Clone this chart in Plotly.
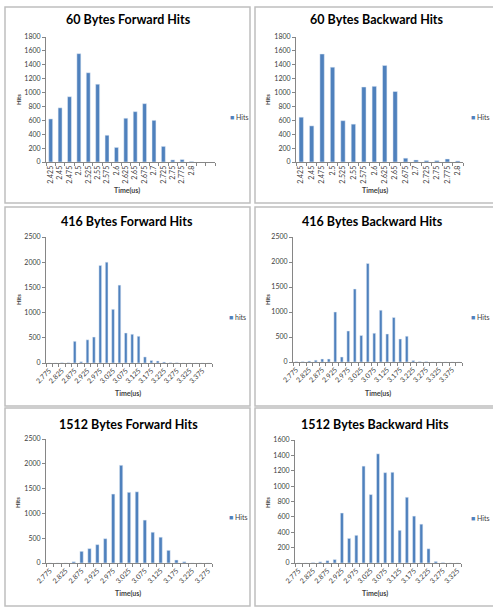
import plotly.graph_objects as go

W, H = 493, 607
BLUE = "#4F81BD"
AXIS = "#868686"
TXT = "#404040"
FONT = "Lato"

# ---------------- data ----------------
cats_60 = ["2.425", "2.45", "2.475", "2.5", "2.525", "2.55", "2.575", "2.6",
           "2.625", "2.65", "2.675", "2.7", "2.725", "2.75", "2.775", "2.8"]
hits_60_fwd = [620, 780, 940, 1560, 1285, 1120, 385, 210,
               630, 725, 840, 600, 225, 30, 35, 8]
hits_60_bwd = [645, 520, 1555, 1365, 595, 545, 1080, 1090,
               1390, 1015, 55, 29, 20, 20, 43, 15]

cats_416 = ["2.775", "2.8", "2.825", "2.85", "2.875", "2.9", "2.925", "2.95",
            "2.975", "3", "3.025", "3.05", "3.075", "3.1", "3.125", "3.15",
            "3.175", "3.2", "3.225", "3.25", "3.275", "3.3", "3.325", "3.35",
            "3.375", "3.4"]
hits_416_fwd = [0, 0, 5, 5, 430, 25, 460, 515, 1935, 2000, 1065, 1545, 595,
                570, 530, 120, 50, 40, 20, 7, 5, 0, 0, 0, 0, 0]
hits_416_bwd = [5, 8, 20, 35, 60, 60, 1000, 100, 620, 1460, 530, 1970, 575,
                1035, 560, 890, 460, 515, 30, 10, 8, 0, 0, 0, 0, 0]

cats_1512_fwd = ["2.775", "2.8", "2.825", "2.85", "2.875", "2.9", "2.925",
                 "2.95", "2.975", "3", "3.025", "3.05", "3.075", "3.1",
                 "3.125", "3.15", "3.175", "3.2", "3.225", "3.25", "3.275"]
hits_1512_fwd = [0, 0, 0, 25, 235, 290, 370, 490, 1390, 1970, 1425, 1435,
                 865, 620, 520, 255, 60, 25, 0, 0, 0]

cats_1512_bwd = ["2.775", "2.8", "2.825", "2.85", "2.875", "2.9", "2.925",
                 "2.95", "2.975", "3", "3.025", "3.05", "3.075", "3.1",
                 "3.125", "3.15", "3.175", "3.2", "3.225", "3.25", "3.275",
                 "3.3", "3.325"]
hits_1512_bwd = [0, 0, 5, 15, 30, 45, 650, 320, 360, 1260, 890, 1420, 1175,
                 1180, 425, 855, 610, 505, 185, 20, 5, 0, 0]

titles = ["60 Bytes Forward Hits", "60 Bytes Backward Hits",
          "416 Bytes Forward Hits", "416 Bytes Backward Hits",
          "1512 Bytes Forward Hits", "1512 Bytes Backward Hits"]
series_names = ["Hits", "Hits", "hits", "Hits", "Hits", "Hits"]

# ---------------- layout (pixels) ----------------
panels = [
    dict(cats=cats_60, vals=hits_60_fwd, ymax=1800, dtick=200, extra=2, step=1, angle=-90,
         dom_x=(46, 215), dom_y=(37, 162), title=(128, 20), ytitle=(19, 100), xtitle=(127, 191), leg=(228, 117)),
    dict(cats=cats_60, vals=hits_60_bwd, ymax=1800, dtick=200, extra=0, step=1, angle=-90,
         dom_x=(296, 463), dom_y=(37, 162), title=(377, 20), ytitle=(268, 100), xtitle=(375, 190), leg=(469, 117)),
    dict(cats=cats_416, vals=hits_416_fwd, ymax=2500, dtick=500, extra=0, step=2, angle=-45,
         dom_x=(46, 212), dom_y=(237, 363), title=(127, 222), ytitle=(18, 300), xtitle=(128, 393), leg=(227, 317)),
    dict(cats=cats_416, vals=hits_416_bwd, ymax=2500, dtick=500, extra=0, step=2, angle=-45,
         dom_x=(293, 462), dom_y=(237, 362), title=(372, 222), ytitle=(267, 300), xtitle=(378, 393), leg=(469, 317)),
    dict(cats=cats_1512_fwd, vals=hits_1512_fwd, ymax=2500, dtick=500, extra=0, step=2, angle=-45,
         dom_x=(46, 212), dom_y=(439, 563), title=(128, 424), ytitle=(17, 503), xtitle=(128, 593), leg=(227, 517)),
    dict(cats=cats_1512_bwd, vals=hits_1512_bwd, ymax=1600, dtick=200, extra=0, step=2, angle=-45,
         dom_x=(295, 461), dom_y=(440, 563), title=(375, 424), ytitle=(267, 503), xtitle=(375, 593), leg=(469, 518)),
]

STEP = 0.025


def px(x):
    return x / W


def py(y):
    return 1 - y / H


fig = go.Figure()
layout = {}
annotations = []
shapes = []

for i, p in enumerate(panels):
    n = i + 1
    sfx = "" if n == 1 else str(n)
    xs = [float(c) for c in p["cats"]]
    fig.add_trace(go.Bar(
        x=xs, y=p["vals"], width=STEP * 0.42, marker_color=BLUE,
        name=series_names[i], xaxis="x" + sfx, yaxis="y" + sfx,
        showlegend=False,
    ))
    lo = xs[0] - STEP / 2
    hi = xs[0] + (len(xs) + p["extra"]) * STEP - STEP / 2
    layout["xaxis" + sfx] = dict(
        domain=[px(p["dom_x"][0]), px(p["dom_x"][1])],
        anchor="y" + sfx, range=[lo, hi], type="linear",
        tickmode="array", tickvals=xs[::p["step"]], ticktext=p["cats"][::p["step"]],
        tickangle=p["angle"], ticks="", showline=True, linecolor=AXIS, linewidth=1,
        showgrid=False, zeroline=False,
        tickfont=dict(size=7, color=TXT, family=FONT),
        minor=dict(ticks="outside", ticklen=3, tick0=lo, dtick=STEP, tickcolor=AXIS, showgrid=False),
    )
    layout["yaxis" + sfx] = dict(
        domain=[py(p["dom_y"][1]), py(p["dom_y"][0])],
        anchor="x" + sfx, range=[0, p["ymax"]], dtick=p["dtick"],
        ticks="outside", ticklen=3, tickcolor=AXIS,
        showline=True, linecolor=AXIS, linewidth=1,
        showgrid=False, zeroline=False,
        tickfont=dict(size=7, color=TXT, family=FONT),
    )
    # legend (series key)
    annotations.append(dict(
        text='<span style="color:%s">■</span> %s' % (BLUE, series_names[i]),
        x=px(p["leg"][0]), y=py(p["leg"][1]), xref="paper", yref="paper",
        showarrow=False, xanchor="left", yanchor="middle",
        font=dict(size=7, color=TXT, family=FONT),
    ))
    annotations.append(dict(
        text="<b>" + titles[i] + "</b>", x=px(p["title"][0]), y=py(p["title"][1]),
        xref="paper", yref="paper", showarrow=False, xanchor="center", yanchor="middle",
        font=dict(size=12.5, color="#000000", family=FONT),
    ))
    annotations.append(dict(
        text="<b>Hits</b>", x=px(p["ytitle"][0]), y=py(p["ytitle"][1]), textangle=-90,
        xref="paper", yref="paper", showarrow=False, xanchor="center", yanchor="middle",
        font=dict(size=6, color=TXT, family=FONT),
    ))
    annotations.append(dict(
        text="<b>Time(us)</b>", x=px(p["xtitle"][0]), y=py(p["xtitle"][1]),
        xref="paper", yref="paper", showarrow=False, xanchor="center", yanchor="middle",
        font=dict(size=7, color=TXT, family=FONT),
    ))

# chart frames
rows = [(7, 203), (207, 406), (408, 606)]
cols = [(5, 250), (255, 497)]
for (y0, y1) in rows:
    for (x0, x1) in cols:
        shapes.append(dict(type="rect", xref="paper", yref="paper",
                           x0=px(x0), x1=px(x1), y0=py(y1), y1=py(y0),
                           line=dict(color="#BFBFBF", width=1.5), layer="below"))

fig.update_layout(
    **layout,
    annotations=annotations, shapes=shapes,
    width=W, height=H, margin=dict(l=0, r=0, t=0, b=0, autoexpand=False),
    paper_bgcolor="white", plot_bgcolor="white",
    font=dict(family=FONT, color=TXT), showlegend=False,
)

fig.write_html("out.html", config={"displayModeBar": False},
               post_script="document.body.style.margin='0';document.body.style.overflow='hidden';")
